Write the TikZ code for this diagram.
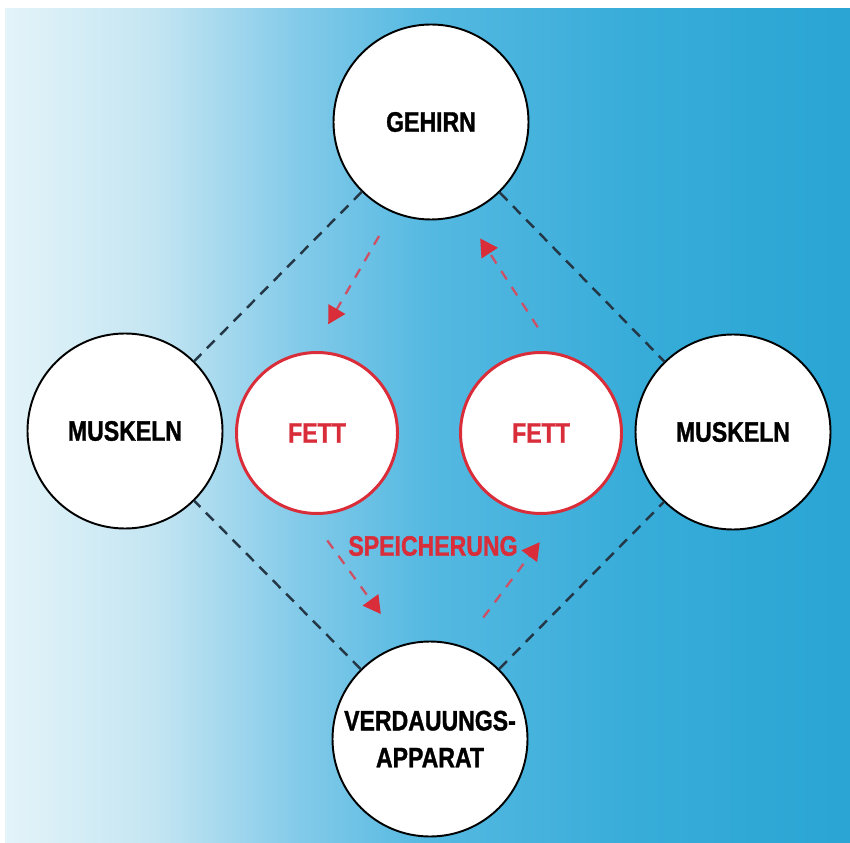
\documentclass[tikz,border=0pt]{standalone}
\usepackage{fontspec}
\newfontfamily\diafont[FakeStretch=0.82,FakeBold=1.2]{Liberation Sans}
\usepackage{tikz}
\usetikzlibrary{arrows.meta}
\definecolor{fettred}{RGB}{218,45,58}
\definecolor{flowred}{RGB}{205,80,100}
\definecolor{linkgray}{RGB}{35,55,70}
\pgfdeclarehorizontalshading{bgshade}{100bp}{%
	rgb(0bp)=(0.894,0.957,0.976); rgb(25bp)=(0.894,0.957,0.976);%
	rgb(34bp)=(0.765,0.898,0.949); rgb(42.5bp)=(0.51,0.792,0.914);%
	rgb(50bp)=(0.333,0.725,0.882); rgb(62.5bp)=(0.216,0.675,0.851);%
	rgb(75bp)=(0.165,0.647,0.831); rgb(100bp)=(0.165,0.647,0.831)}
\tikzstyle{organ} = [circle, draw=black, line width=1.1pt, fill=white,%
	minimum size=39mm, inner sep=0pt, align=center,%
	font=\diafont\bfseries\fontsize{16}{21}\selectfont]
\tikzstyle{fett} = [circle, draw=fettred, line width=1.7pt, fill=white,%
	minimum size=32.2mm, inner sep=0pt, text=fettred,%
	font=\diafont\bfseries\fontsize{16}{21}\selectfont]
\tikzstyle{link} = [linkgray, line width=1.4pt, dash pattern=on 2.2mm off 1.6mm]
\tikzstyle{flow} = [flowred, line width=1.3pt, dash pattern=on 2mm off 1.8mm,%
	-{Triangle[length=3.5mm,width=3.8mm,fettred]}]

\begin{document}
\begin{tikzpicture}[x=0.2mm, y=-0.2mm]
		\useasboundingbox (0,0) rectangle (850,843);
		\fill[white] (0,0) rectangle (850,843);
		\shade[shading=bgshade] (5,9) rectangle (850,843);
		% organs
		\node[organ] (gehirn) at (431,122) {GEHIRN};
		\node[organ] (muskelnL) at (125,431) {MUSKELN};
		\node[organ] (muskelnR) at (733,432) {MUSKELN};
		\node[organ] (verdauung) at (430,739) {VERDAUUNGS-\\APPARAT};
		% fat stores
		\node[fett] (fettL) at (317,433) {FETT};
		\node[fett] (fettR) at (541,433) {FETT};
		\node[text=fettred, font=\diafont\bfseries\fontsize{16}{21}\selectfont] (speicherung) at (433,546) {SPEICHERUNG};
		% dashed links
		\draw[link] (gehirn) -- (muskelnL);
		\draw[link] (gehirn) -- (muskelnR);
		\draw[link] (verdauung) -- (muskelnL);
		\draw[link] (verdauung) -- (muskelnR);
		% red flows
		\draw[flow, shorten <=5.4mm, shorten >=6.2mm] (gehirn.247.5) -- (fettL.93.1);
		\draw[flow, shorten <=5.9mm, shorten >=5.7mm] (fettR.81.7) -- (gehirn.290.2);
		\draw[flow, shorten <=6.4mm, shorten >=7.5mm] (fettL.264) -- (verdauung.106.3);
		\draw[flow, shorten <=7.1mm, shorten >=7.5mm] (verdauung.71.7) -- (fettR.285.4);
	\end{tikzpicture}
\end{document}
